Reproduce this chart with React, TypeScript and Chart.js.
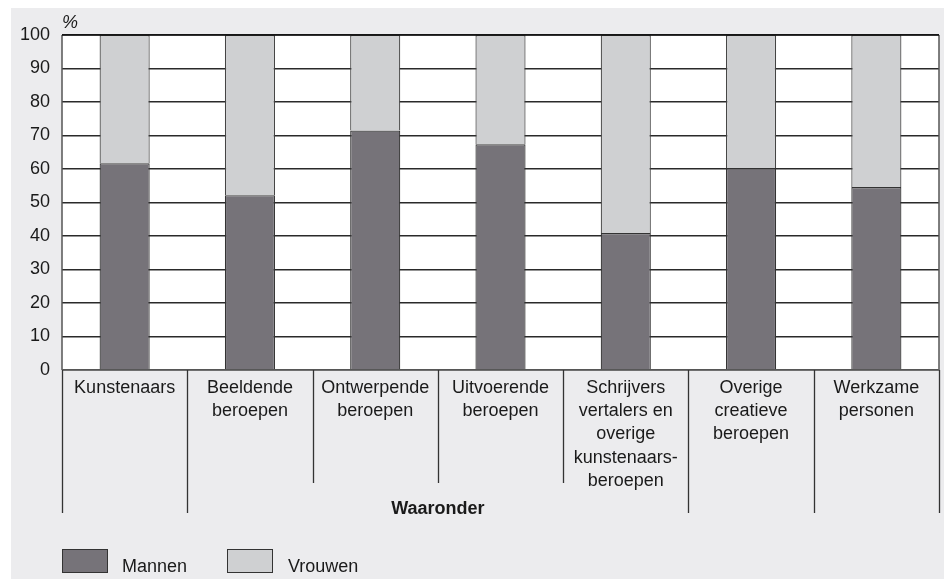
import React, { useEffect, useRef } from "react";
import { Chart, registerables } from "chart.js";

Chart.register(...registerables);

const categories: string[][] = [
  ["Kunstenaars"],
  ["Beeldende", "beroepen"],
  ["Ontwerpende", "beroepen"],
  ["Uitvoerende", "beroepen"],
  ["Schrijvers", "vertalers en", "overige", "kunstenaars-", "beroepen"],
  ["Overige", "creatieve", "beroepen"],
  ["Werkzame", "personen"],
];
const mannen = [61.7, 52.2, 71.5, 67.4, 40.9, 60.2, 54.6];
const vrouwen = [38.3, 47.8, 28.5, 32.6, 59.1, 39.8, 45.4];
const yTicks = [0, 10, 20, 30, 40, 50, 60, 70, 80, 90, 100];
const seriesNames = ["Mannen", "Vrouwen"];
const groupLabel = "Waaronder";
const groupFirst = 1;
const groupLast = 4;
const unitLabel = "%";

const FONT = '"Liberation Sans", Arial, Helvetica, sans-serif';
const MEN_COLOR = "#767379";
const WOMEN_COLOR = "#cfd0d2";
const BG = "#ececee";
const TEXT = "#1a1a1a";

const decorPlugin = {
  id: "decor",
  beforeDraw(chart: any) {
    const { ctx, chartArea } = chart;
    ctx.save();
    ctx.fillStyle = "#ffffff";
    ctx.fillRect(0, 0, chart.width, chart.height);
    ctx.fillStyle = BG;
    ctx.fillRect(11, 8, chart.width - 11, chart.height - 8);
    ctx.fillStyle = "#ffffff";
    ctx.fillRect(chartArea.left, chartArea.top, chartArea.right - chartArea.left, chartArea.bottom - chartArea.top);
    ctx.restore();
  },
  afterDraw(chart: any) {
    const { ctx, chartArea } = chart;
    const x = chart.scales.x;
    const n = categories.length;
    const step = (chartArea.right - chartArea.left) / n;
    ctx.save();
    // plot borders
    ctx.strokeStyle = "#555555";
    ctx.lineWidth = 1.5;
    ctx.beginPath();
    ctx.moveTo(chartArea.left, chartArea.top);
    ctx.lineTo(chartArea.left, chartArea.bottom);
    ctx.moveTo(chartArea.right, chartArea.top);
    ctx.lineTo(chartArea.right, chartArea.bottom);
    ctx.stroke();
    ctx.strokeStyle = "#666666";
    ctx.beginPath();
    ctx.moveTo(chartArea.left, chartArea.bottom);
    ctx.lineTo(chartArea.right, chartArea.bottom);
    ctx.stroke();
    ctx.strokeStyle = "#111111";
    ctx.beginPath();
    ctx.moveTo(chartArea.left, chartArea.top);
    ctx.lineTo(chartArea.right, chartArea.top);
    ctx.stroke();

    // separators below axis
    ctx.strokeStyle = "#333333";
    ctx.lineWidth = 1.3;
    for (let b = 0; b <= n; b++) {
      const bx = b === n ? x.getPixelForValue(n - 1) + step / 2 : x.getPixelForValue(b) - step / 2;
      const inner = b > groupFirst && b <= groupLast;
      const endY = chartArea.bottom + (inner ? 113 : 143);
      ctx.beginPath();
      ctx.moveTo(Math.round(bx) + 0.5, chartArea.bottom);
      ctx.lineTo(Math.round(bx) + 0.5, endY);
      ctx.stroke();
    }

    // category labels
    ctx.fillStyle = TEXT;
    ctx.font = `18px ${FONT}`;
    ctx.textAlign = "center";
    ctx.textBaseline = "middle";
    categories.forEach((lines, i) => {
      const cx = x.getPixelForValue(i);
      lines.forEach((line, j) => {
        ctx.fillText(line, cx, chartArea.bottom + 18 + j * 23.2);
      });
    });

    // group label
    const gx = (x.getPixelForValue(groupFirst) - step / 2 + x.getPixelForValue(groupLast) + step / 2) / 2;
    ctx.font = `bold 18px ${FONT}`;
    ctx.fillText(groupLabel, gx, chartArea.bottom + 139);

    // unit label
    ctx.font = `italic 18px ${FONT}`;
    ctx.textAlign = "left";
    ctx.fillText(unitLabel, chartArea.left, 23);

    // legend
    const boxes = [
      { bx: 62, tx: 122, color: MEN_COLOR, label: seriesNames[0] },
      { bx: 227, tx: 288, color: WOMEN_COLOR, label: seriesNames[1] },
    ];
    ctx.font = `18px ${FONT}`;
    boxes.forEach((b) => {
      ctx.fillStyle = b.color;
      ctx.fillRect(b.bx, 549, 45, 23);
      ctx.strokeStyle = "#333333";
      ctx.lineWidth = 1;
      ctx.strokeRect(b.bx + 0.5, 549.5, 45, 23);
      ctx.fillStyle = TEXT;
      ctx.fillText(b.label, b.tx, 567);
    });
    ctx.restore();
  },
};

export default function App() {
  const ref = useRef<HTMLCanvasElement | null>(null);
  useEffect(() => {
    if (!ref.current) return;
    const chart = new Chart(ref.current, {
      type: "bar",
      data: {
        labels: categories.map((c) => c.join(" ")),
        datasets: [
          {
            label: seriesNames[0],
            data: mannen,
            backgroundColor: MEN_COLOR,
            borderColor: "#333333",
            borderWidth: 1.2,
            barPercentage: 0.4,
            categoryPercentage: 1,
          },
          {
            label: seriesNames[1],
            data: vrouwen,
            backgroundColor: WOMEN_COLOR,
            borderColor: "#444444",
            borderWidth: 1.2,
            barPercentage: 0.4,
            categoryPercentage: 1,
          },
        ],
      },
      options: {
        animation: false,
        responsive: true,
        maintainAspectRatio: false,
        layout: { padding: { left: 0, top: 35, right: 5, bottom: 209 } },
        plugins: { legend: { display: false }, tooltip: { enabled: false }, title: { display: false } },
        scales: {
          x: { display: false, stacked: true, offset: true },
          y: {
            stacked: true,
            min: 0,
            max: 100,
            afterFit: (scale: any) => {
              scale.width = 62;
            },
            afterBuildTicks: (scale: any) => {
              scale.ticks = yTicks.map((v) => ({ value: v }));
            },
            ticks: {
              font: { family: FONT, size: 18 },
              color: TEXT,
              padding: 12,
            },
            grid: { color: "#2a2a2a", lineWidth: 1.5, drawTicks: false },
            border: { display: false },
          },
        },
      },
      plugins: [decorPlugin],
    });
    return () => chart.destroy();
  }, []);
  return (
    <div style={{ position: "absolute", left: 0, top: 0, width: 944, height: 579 }}>
      <canvas ref={ref} />
    </div>
  );
}
